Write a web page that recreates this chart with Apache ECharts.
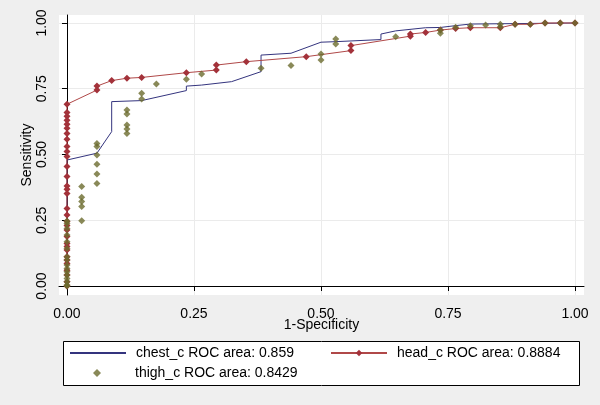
<!DOCTYPE html>
<html>
<head>
<meta charset="utf-8">
<script src="https://cdn.jsdelivr.net/npm/echarts@6/dist/echarts.min.js"></script>
<style>
html,body{margin:0;padding:0;background:#efefef;}
#chart{width:600px;height:405px;}
</style>
</head>
<body>
<div id="chart"></div>
<script>
// Tick labels
var xTicks = [0, 0.25, 0.5, 0.75, 1];
var yTicks = [0, 0.25, 0.5, 0.75, 1];

// Series names
var nameChest = 'chest_c ROC area: 0.859';
var nameHead = 'head_c ROC area: 0.8884';
var nameThigh = 'thigh_c ROC area: 0.8429';

// chest_c ROC curve (1-specificity, sensitivity)
var chestX = [0, 0, 0.059, 0.088, 0.088, 0.147, 0.235, 0.235, 0.265, 0.324, 0.382, 0.382, 0.441, 0.500, 0.529, 0.618, 0.618, 0.647, 0.706, 0.735, 0.765, 0.794, 1.000];
var chestY = [0, 0.479, 0.505, 0.587, 0.701, 0.705, 0.743, 0.760, 0.764, 0.777, 0.815, 0.878, 0.885, 0.927, 0.929, 0.937, 0.958, 0.970, 0.982, 0.983, 0.990, 0.996, 1.000];

// head_c ROC curve
var headX = [0, 0, 0, 0, 0, 0, 0, 0, 0, 0, 0, 0, 0, 0, 0, 0, 0, 0, 0, 0, 0, 0, 0, 0, 0, 0, 0, 0, 0, 0, 0, 0,
  0.059, 0.059, 0.088, 0.118, 0.147, 0.235, 0.294, 0.294, 0.353, 0.471, 0.559, 0.559, 0.676, 0.676, 0.706, 0.735, 0.765, 0.794, 0.853, 0.882, 0.912, 0.941, 0.971, 1.000];
var headY = [0, 0.016, 0.042, 0.060, 0.086, 0.099, 0.111, 0.137, 0.150, 0.162, 0.188, 0.213, 0.230, 0.245, 0.270, 0.295, 0.352, 0.368, 0.380, 0.416, 0.454, 0.492, 0.511, 0.530, 0.558, 0.580, 0.600, 0.615, 0.630, 0.645, 0.660, 0.691,
  0.745, 0.760, 0.781, 0.790, 0.793, 0.811, 0.821, 0.840, 0.853, 0.872, 0.895, 0.914, 0.950, 0.958, 0.964, 0.973, 0.979, 0.982, 0.982, 0.995, 0.995, 1.000, 1.000, 1.000];

// thigh_c ROC points
var thighX = [0, 0, 0, 0, 0, 0, 0, 0, 0, 0, 0, 0, 0, 0, 0, 0,
  0.029, 0.029, 0.029, 0.029, 0.029,
  0.059, 0.059, 0.059, 0.059, 0.059, 0.059,
  0.118, 0.118, 0.118, 0.118, 0.118,
  0.147, 0.147, 0.176, 0.235, 0.265, 0.382, 0.441, 0.500, 0.500, 0.529, 0.529, 0.647,
  0.735, 0.735, 0.765, 0.794, 0.824, 0.853, 0.853, 0.882, 0.912, 0.941, 0.971, 1.000];
var thighY = [0, 0.004, 0.016, 0.029, 0.042, 0.054, 0.067, 0.080, 0.099, 0.111, 0.143, 0.168, 0.194, 0.219, 0.238, 0.247,
  0.248, 0.302, 0.321, 0.337, 0.378,
  0.390, 0.426, 0.463, 0.498, 0.530, 0.542,
  0.580, 0.597, 0.612, 0.654, 0.669,
  0.711, 0.733, 0.768, 0.786, 0.806, 0.828, 0.838, 0.859, 0.882, 0.920, 0.939, 0.948,
  0.961, 0.973, 0.984, 0.990, 0.992, 0.985, 0.995, 0.995, 0.995, 1.000, 1.000, 1.000];

function pairs(xs, ys) { return xs.map(function (x, i) { return [x, ys[i]]; }); }

var FONT = 'Liberation Sans, Arial, sans-serif';
var cChest = '#34347e', cHead = '#a3323a', cThigh = '#6b6b2e';
var chart = echarts.init(document.getElementById('chart'), null, {renderer: 'canvas'});
var legendBase = {
  orient: 'horizontal', itemWidth: 56, itemHeight: 8, padding: 0,
  textStyle: {fontFamily: FONT, fontSize: 14, color: '#000', padding: [0, 0, 0, 5]},
  selectedMode: false
};
chart.setOption({
  animation: false,
  backgroundColor: '#efefef',
  grid: {left: 59, right: 16, top: 15, bottom: 110, show: true, backgroundColor: '#ffffff', borderWidth: 0, containLabel: false},
  xAxis: {
    type: 'value', min: -0.0157, max: 1.0177,
    name: '1-Specificity', nameLocation: 'middle', nameGap: 23, nameMoveOverlap: false,
    nameTextStyle: {fontFamily: FONT, fontSize: 14, color: '#000'},
    axisLine: {show: true, lineStyle: {color: '#000', width: 1}},
    axisTick: {show: true, length: 5, customValues: xTicks, lineStyle: {color: '#000'}},
    axisLabel: {customValues: xTicks, margin: 12, fontFamily: FONT, fontSize: 14, color: '#000', formatter: function (v) { return v.toFixed(2); }},
    splitLine: {show: true, lineStyle: {color: '#ebebeb', width: 1}}
  },
  yAxis: {
    type: 'value', min: -0.0342, max: 1.0304,
    name: 'Sensitivity', nameLocation: 'middle', nameGap: 25, nameMoveOverlap: false,
    nameTextStyle: {fontFamily: FONT, fontSize: 14, color: '#000'},
    axisLine: {show: true, lineStyle: {color: '#000', width: 1}},
    axisTick: {show: true, length: 5, customValues: yTicks, lineStyle: {color: '#000'}},
    axisLabel: {customValues: yTicks, rotate: 90, margin: 10, fontFamily: FONT, fontSize: 14, color: '#000', formatter: function (v) { return v.toFixed(2); }},
    splitLine: {show: true, lineStyle: {color: '#ebebeb', width: 1}}
  },
  legend: [
    Object.assign({}, legendBase, {left: 69, top: 346, data: [{name: nameChest, itemStyle: {color: 'rgba(0,0,0,0)', borderWidth: 0}}]}),
    Object.assign({}, legendBase, {left: 330, top: 346, data: [{name: nameHead}]}),
    Object.assign({}, legendBase, {left: 93, top: 366, itemWidth: 8,
      textStyle: {fontFamily: FONT, fontSize: 14, color: '#000', padding: [0, 0, 0, 29]},
      data: [{name: nameThigh, icon: 'diamond'}]})
  ],
  graphic: [{
    type: 'rect', z: 0, silent: true,
    shape: {x: 63.5, y: 341.5, width: 516, height: 44},
    style: {fill: '#ffffff', stroke: '#000000', lineWidth: 1}
  }],
  series: [
    {
      name: nameChest, type: 'line', data: pairs(chestX, chestY),
      symbol: 'none', showSymbol: false, color: cChest,
      lineStyle: {color: cChest, width: 1}, z: 2
    },
    {
      name: nameHead, type: 'line', data: pairs(headX, headY),
      symbol: 'diamond', symbolSize: 7, showSymbol: true, showAllSymbol: true, color: cHead,
      itemStyle: {color: cHead}, lineStyle: {color: '#b04848', width: 1}, z: 3
    },
    {
      name: nameThigh, type: 'scatter', data: pairs(thighX, thighY),
      symbol: 'diamond', symbolSize: 7, color: cThigh, itemStyle: {color: cThigh}, z: 4
    }
  ]
});
</script>
</body>
</html>
